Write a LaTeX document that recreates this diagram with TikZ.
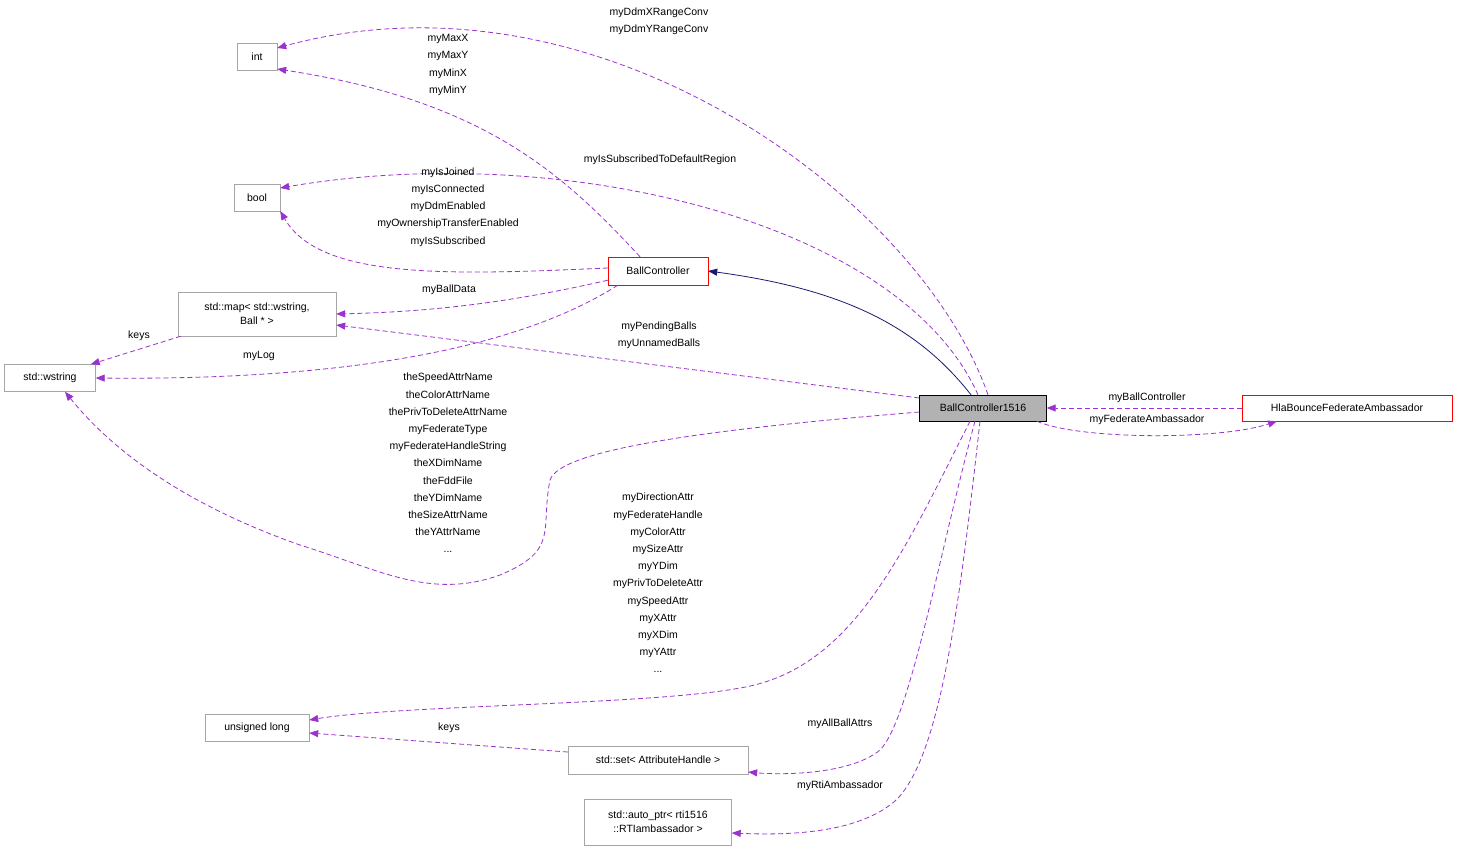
\documentclass[tikz,border=0pt]{standalone}
\usepackage{fontspec}
\setmainfont{Liberation Sans}
\usetikzlibrary{arrows.meta}
\definecolor{ep}{HTML}{9A32CD}
\definecolor{nv}{HTML}{191970}
\begin{document}
\begin{tikzpicture}[x=1pt,y=-1pt,font=\fontsize{10.5}{17.2}\selectfont,
 box/.style={draw=gray!70,fill=white,rectangle,inner sep=0pt,align=center},
 red/.style={box,draw=red},
 e/.style={draw=ep,line width=0.8pt,dash pattern=on 5pt off 3pt,-{Triangle[length=9pt,width=7pt]},fill=none},
 lb/.style={align=center,inner sep=0pt}]
\useasboundingbox (0,0) rectangle (1459,851);
\node[box,minimum width=40,minimum height=27] (int) at (257,57) {int};
\node[box,minimum width=46,minimum height=27] (bool) at (257,198) {bool};
\node[box,minimum width=158,minimum height=44,font=\fontsize{10.5}{14}\selectfont] (map) at (257,314) {std::map< std::wstring,\\Ball * >};
\node[box,minimum width=91,minimum height=27] (ws) at (50,378) {std::wstring};
\node[red,minimum width=100,minimum height=28] (bc) at (658,271) {BallController};
\node[box,draw=black,fill=gray!60,minimum width=127,minimum height=26] (m) at (983,408) {BallController1516};
\node[red,minimum width=210,minimum height=26] (hla) at (1347,408) {HlaBounceFederateAmbassador};
\node[box,minimum width=104,minimum height=27] (ul) at (257,728) {unsigned long};
\node[box,minimum width=180,minimum height=28] (set) at (658,760) {std::set< AttributeHandle >};
\node[box,minimum width=147,minimum height=46,font=\fontsize{10.5}{14}\selectfont] (ap) at (658,822) {std::auto\_ptr< rti1516\\::RTIambassador >};
\draw[e] ([xshift=5]m.north) .. controls (920,200) and (600,-40) .. ([yshift=9]int.east);
\draw[e] ([xshift=-18]bc.north) .. controls (560,170) and (480,100) .. ([yshift=-12]int.east);
\draw[e] ([xshift=-5]m.north) .. controls (900,220) and (560,140) .. ([yshift=10]bool.east);
\draw[e] ([yshift=3]bc.west) .. controls (450,275) and (320,280) .. ([yshift=-13]bool.east);
\draw[e] ([yshift=5]bc.south west) .. controls (500,305) and (420,312) .. (map.east);
\draw[e] ([xshift=10]bc.south west) .. controls (500,360) and (300,380) .. (ws.east);
\draw[e] ([yshift=10]m.west) -- ([yshift=-11]map.east);
\draw[e] ([xshift=3]map.south west) -- ([xshift=-5]ws.north east);
\draw[e] ([yshift=-4]m.west) .. controls (700,430) and (560,450) .. (550,480)
 .. controls (540,530) and (560,550) .. (500,575) .. controls (430,600) and (380,570) .. (300,545) .. controls (200,510) and (120,460) .. ([xshift=15]ws.south);
\draw[e] ([xshift=-13]m.south) .. controls (900,560) and (850,670) .. (740,688) .. controls (650,705) and (400,705) .. ([yshift=8]ul.east);
\draw[e] ([yshift=8]set.west) -- ([yshift=-5]ul.east);
\draw[e] ([xshift=-8]m.south) .. controls (940,550) and (910,720) .. (880,750) .. controls (850,775) and (780,775) .. ([yshift=-12]set.east);
\draw[e] ([xshift=-3]m.south) .. controls (960,600) and (940,770) .. (890,805) .. controls (850,835) and (780,835) .. ([yshift=-11]ap.east);
\draw[e] (hla.west) -- (m.east);
\draw[e] ([xshift=-10]m.south east) .. controls (1080,440) and (1220,440) .. ([xshift=-70]hla.south);
\draw[draw=nv,line width=0.8pt,-{Triangle[length=9pt,width=7pt]},fill=none] ([xshift=-12]m.north) .. controls (920,330) and (850,290) .. (bc.east);
\node[lb] (l1) at (659,21) {myDdmXRangeConv\\myDdmYRangeConv};
\node[lb] (l2) at (448,65) {myMaxX\\myMaxY\\myMinX\\myMinY};
\node[lb] (l3) at (660,160) {myIsSubscribedToDefaultRegion};
\node[lb] (l4) at (448,207) {myIsJoined\\myIsConnected\\myDdmEnabled\\myOwnershipTransferEnabled\\myIsSubscribed};
\node[lb] (l5) at (449,290) {myBallData};
\node[lb] (l6) at (259,356) {myLog};
\node[lb] (l7) at (139,336) {keys};
\node[lb] (l8) at (659,335) {myPendingBalls\\myUnnamedBalls};
\node[lb] (l9) at (448,463) {theSpeedAttrName\\theColorAttrName\\thePrivToDeleteAttrName\\myFederateType\\myFederateHandleString\\theXDimName\\theFddFile\\theYDimName\\theSizeAttrName\\theYAttrName\\...};
\node[lb] (l10) at (658,583) {myDirectionAttr\\myFederateHandle\\myColorAttr\\mySizeAttr\\myYDim\\myPrivToDeleteAttr\\mySpeedAttr\\myXAttr\\myXDim\\myYAttr\\...};
\node[lb] (l11) at (449,728) {keys};
\node[lb] (l12) at (840,724) {myAllBallAttrs};
\node[lb] (l13) at (840,786) {myRtiAmbassador};
\node[lb] (l14) at (1147,398) {myBallController};
\node[lb] (l15) at (1147,420) {myFederateAmbassador};
\end{tikzpicture}
\end{document}
